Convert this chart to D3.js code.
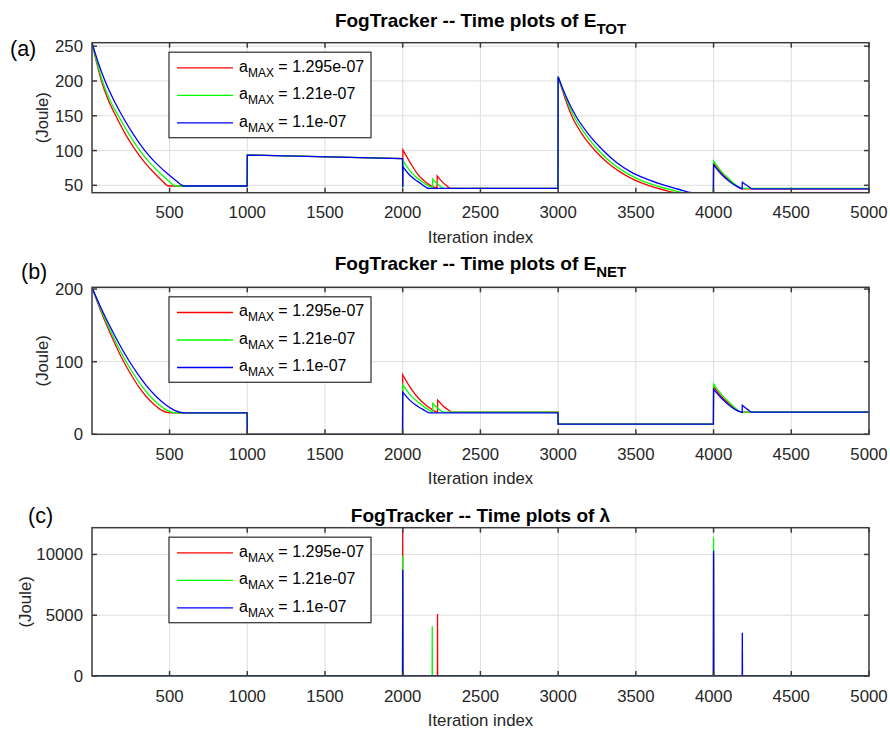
<!DOCTYPE html>
<html>
  <head>
    <meta charset="utf-8">
    <title>FogTracker time plots</title>
    <script src="https://cdn.jsdelivr.net/npm/d3@7"></script>
    <style media="screen">
      body {
        margin: 0;
        background: #fff;
      }
      svg {
        display: block;
        font-family: "Liberation Sans", Arial, sans-serif;
      }
      .tick-label {
        font-size: 16.8px;
        fill: #262626;
      }
      .grid {
        stroke: #dedede;
        stroke-width: 1;
      }
      .frame {
        fill: none;
        stroke: #3c3c3c;
        stroke-width: 1.5;
      }
      .series {
        fill: none;
        stroke-width: 1.3;
      }
    </style>
  </head>
  <body>
    <script type="text/javascript">

    // ---- data ([iteration, value]) ----
    const xTicks = [500, 1000, 1500, 2000, 2500, 3000, 3500, 4000, 4500, 5000];
    const colors = ['#ff0000', '#00ff00', '#0000ff'];
    const legendValues = ['1.295e-07', '1.21e-07', '1.1e-07'];
    const panelLetters = ['(a)', '(b)', '(c)'];

    // (a) E_TOT
    const totTicks = [50, 100, 150, 200, 250];
    const totRed = [
      [1,255],[30,227],[62,200],[105,173],[154,150],[215,124],[283,100],[340,83],[400,68],[450,57],[495,49],
      [999,49],[1000,93.5],[1999,88.5],[2000,47.5],
      [2001,101],[2050,82],[2090,68],[2130,58],[2170,51],[2207,47],[2221,47],
      [2222,63.5],[2250,56],[2280,50],[2308,45.5],[2999,45.5],
      [3000,206],[3040,178],[3087,150],[3150,125],[3237,100],[3320,82],[3400,69],[3480,59],[3580,50],[3670,44],[3760,39.4],
      [3999,39.4],[4000,82],[4050,68],[4100,57],[4140,50],[4180,45],[5000,45]
    ];
    const totGreen = [
      [1,255],[33,227],[68,200],[115,173],[170,150],[238,124],[309,100],[371,83],[436,68],[491,57],[540,49],
      [999,49],[1000,93.5],[1999,88.5],[2000,47.5],
      [2001,86],[2040,73],[2080,63],[2120,56],[2160,50],[2192,47],
      [2193,59],[2220,53],[2245,48],[2265,45.5],[2999,45.5],
      [3000,206],[3045,178],[3100,150],[3170,125],[3260,100],[3345,82],[3430,69],[3515,59],[3623,50],[3720,44],[3810,39.6],
      [3999,39.6],[4000,85],[4050,70],[4100,59],[4140,51],[4180,45.5],[5000,45.5]
    ];
    const totBlue = [
      [1,255],[40,227],[85,200],[140,173],[195,150],[265,124],[341,100],[408,83],[480,68],[540,57],[594,49],
      [999,49],[1000,93.5],[1999,88.5],[2000,47.5],
      [2001,77],[2040,66],[2080,58],[2120,52],[2170,45.5],[2999,45.5],
      [3000,206],[3050,178],[3113,150],[3190,125],[3290,100],[3380,82],[3470,69],[3570,59],[3687,50],[3780,44],[3859,39.6],
      [3999,39.6],[4000,79.5],[4050,66],[4100,56],[4140,50],[4184,45],
      [4185,54.5],[4220,49],[4249,45],[5000,45]
    ];

    // (b) E_NET
    const netTicks = [0, 100, 200];
    const netRed = [
      [1,202],[50,174],[100,148],[150,124],[200,102],[250,83],[300,66],[350,52],[400,41],[450,33],[502,29.5],
      [999,29.5],[1000,0],[1999,0],
      [2000,82],[2050,64],[2100,50],[2150,40],[2190,34],[2218,30.5],[2224,30.5],
      [2225,47],[2260,39],[2290,34],[2315,30.5],[2999,30.5],
      [3000,14],[3999,14],[4000,65.5],[4050,52],[4100,42],[4140,35],[4180,30.5],[5000,30.5]
    ];
    const netGreen = [
      [1,202],[54,174],[108,148],[161,124],[215,102],[269,83],[323,66],[377,52],[430,41],[484,33],[540,29.5],
      [999,29.5],[1000,0],[1999,0],
      [2000,68],[2050,54],[2100,44],[2150,36],[2192,30.5],
      [2193,42.5],[2230,35],[2265,30.5],[2999,30.5],
      [3000,14],[3999,14],[4000,69],[4050,55],[4100,44],[4140,36],[4180,30.5],[5000,30.5]
    ];
    const netBlue = [
      [1,202],[59,174],[118,148],[177,124],[237,102],[296,83],[355,66],[414,52],[473,41],[532,33],[594,29.5],
      [999,29.5],[1000,0],[1999,0],
      [2000,58],[2050,46],[2100,38],[2140,33],[2170,29.5],[2999,29.5],
      [3000,14],[3999,14],[4000,62],[4050,50],[4100,40],[4140,34],[4184,30],
      [4185,40],[4220,34],[4249,30.5],[5000,30.5]
    ];

    // (c) lambda: zero everywhere except these spikes
    const lamTicks = [0, 5000, 10000];
    const lamRedSpikes = [[2000,12200],[2224,5100],[4000,10000]];
    const lamGreenSpikes = [[2000,9900],[2190,4100],[4000,11400]];
    const lamBlueSpikes = [[2000,8750],[4000,10300],[4185,3560]];

    function spikeLine(spikes) {
      let pts = [[1, 0]];
      spikes.forEach(s => pts.push([s[0] - 1, 0], s, [s[0] + 1, 0]));
      pts.push([5000, 0]);
      return pts;
    }

    // ---- layout ----
    const W = 890, H = 729;
    const left = 92, right = 869;

    const panels = [
      {top: 42.7, bottom: 192.7, domain: [39.4, 255], ticks: totTicks,
       series: [totRed, totGreen, totBlue], smooth: true, title: 'E', sub: 'TOT',
       titleY: 27, ylabelX: 42, letterX: 10, letterY: 56},
      {top: 287.3, bottom: 434.3, domain: [0, 202.4], ticks: netTicks,
       series: [netRed, netGreen, netBlue], smooth: true, title: 'E', sub: 'NET',
       titleY: 269.5, ylabelX: 42, letterX: 21, letterY: 279},
      {top: 527.7, bottom: 676, domain: [0, 12200], ticks: lamTicks,
       series: [spikeLine(lamRedSpikes), spikeLine(lamGreenSpikes), spikeLine(lamBlueSpikes)],
       smooth: false, title: '\u03bb', sub: null,
       titleY: 521.5, ylabelX: 25, letterX: 28, letterY: 523}
    ];

    const svg = d3.select('body').append('svg')
      .attr('width', W)
      .attr('height', H);

    const x = d3.scaleLinear().domain([1, 5000]).range([left, right]);
    const tickLen = 5;

    panels.forEach((p, i) => {
      const y = d3.scaleLinear().domain(p.domain).range([p.bottom, p.top]);
      const g = svg.append('g');

      g.append('clipPath').attr('id', 'clip' + i)
        .append('rect')
        .attr('x', left).attr('y', p.top)
        .attr('width', right - left).attr('height', p.bottom - p.top);

      // grid
      g.selectAll('.gx').data(xTicks).enter().append('line')
        .attr('class', 'grid')
        .attr('x1', d => x(d)).attr('x2', d => x(d))
        .attr('y1', p.top).attr('y2', p.bottom);
      g.selectAll('.gy').data(p.ticks).enter().append('line')
        .attr('class', 'grid')
        .attr('x1', left).attr('x2', right)
        .attr('y1', d => y(d)).attr('y2', d => y(d));

      // series: smooth between knots, straight vertical jumps (steps of 1 iteration)
      const line = d3.line()
        .x(d => x(d[0])).y(d => y(d[1]))
        .curve(p.smooth ? d3.curveMonotoneX : d3.curveLinear);
      const seriesPath = pts => {
        const pieces = [];
        let cur = [pts[0]];
        for (let k = 1; k < pts.length; k++) {
          if (pts[k][0] - pts[k - 1][0] <= 1) { pieces.push(cur); cur = []; }
          cur.push(pts[k]);
        }
        pieces.push(cur);
        return pieces.map((pc, j) => {
          const s = pc.length > 1 ? line(pc) : 'M' + x(pc[0][0]) + ',' + y(pc[0][1]);
          return j ? 'L' + s.slice(1) : s;
        }).join('');
      };
      g.append('g').attr('clip-path', 'url(#clip' + i + ')')
        .selectAll('path').data(p.series).enter().append('path')
        .attr('class', 'series')
        .attr('stroke', (d, k) => colors[k])
        .attr('d', seriesPath);

      // frame and inward ticks on all four sides
      g.append('rect').attr('class', 'frame')
        .attr('x', left).attr('y', p.top)
        .attr('width', right - left).attr('height', p.bottom - p.top);

      xTicks.forEach(t => {
        g.append('line').attr('class', 'frame')
          .attr('x1', x(t)).attr('x2', x(t)).attr('y1', p.bottom).attr('y2', p.bottom - tickLen);
        g.append('line').attr('class', 'frame')
          .attr('x1', x(t)).attr('x2', x(t)).attr('y1', p.top).attr('y2', p.top + tickLen);
      });
      p.ticks.forEach(t => {
        g.append('line').attr('class', 'frame')
          .attr('x1', left).attr('x2', left + tickLen).attr('y1', y(t)).attr('y2', y(t));
        g.append('line').attr('class', 'frame')
          .attr('x1', right).attr('x2', right - tickLen).attr('y1', y(t)).attr('y2', y(t));
      });

      // tick labels
      g.selectAll('.xl').data(xTicks).enter().append('text')
        .attr('class', 'tick-label')
        .attr('x', d => x(d))
        .attr('y', p.bottom + 25.5)
        .attr('text-anchor', 'middle')
        .text(d => d);
      g.selectAll('.yl').data(p.ticks).enter().append('text')
        .attr('class', 'tick-label')
        .attr('x', left - 9)
        .attr('y', d => y(d) + 6)
        .attr('text-anchor', 'end')
        .text(d => d);

      // axis labels
      g.append('text')
        .attr('class', 'tick-label')
        .attr('x', (left + right) / 2)
        .attr('y', p.bottom + 50)
        .attr('text-anchor', 'middle')
        .text('Iteration index');
      g.append('text')
        .attr('class', 'tick-label')
        .attr('transform', 'translate(' + (p.ylabelX + 6) + ',' + ((p.top + p.bottom) / 2) + ') rotate(-90)')
        .attr('text-anchor', 'middle')
        .text('(Joule)');

      // title
      const title = g.append('text')
        .attr('x', (left + right) / 2)
        .attr('y', p.titleY)
        .attr('text-anchor', 'middle')
        .style('font-size', '19px')
        .style('font-weight', 'bold')
        .style('fill', '#000');
      title.append('tspan').text('FogTracker -- Time plots of ' + p.title);
      if (p.sub) {
        title.append('tspan').attr('dy', 7).style('font-size', '15px').text(p.sub);
      }

      // panel letter
      g.append('text')
        .attr('x', p.letterX)
        .attr('y', p.letterY)
        .style('font-size', '21.5px')
        .text(panelLetters[i]);

      // legend
      const lg = g.append('g').attr('transform', 'translate(169,' + (p.top + 9.5) + ')');
      lg.append('rect')
        .attr('width', 202).attr('height', 85.5)
        .attr('fill', '#fff')
        .attr('stroke', '#3c3c3c')
        .attr('stroke-width', 1.3);
      legendValues.forEach((v, k) => {
        const ry = 15.7 + k * 27.5;
        lg.append('line')
          .attr('x1', 8).attr('x2', 64)
          .attr('y1', ry).attr('y2', ry)
          .attr('stroke', colors[k])
          .attr('stroke-width', 1.3);
        const t = lg.append('text')
          .attr('x', 70).attr('y', ry + 4)
          .style('font-size', '16px')
          .style('fill', '#000');
        t.append('tspan').text('a');
        t.append('tspan').attr('dy', 5).style('font-size', '12px').text('MAX');
        t.append('tspan').attr('dy', -5).text(' = ' + v);
      });
    });
    </script>
  </body>
</html>
